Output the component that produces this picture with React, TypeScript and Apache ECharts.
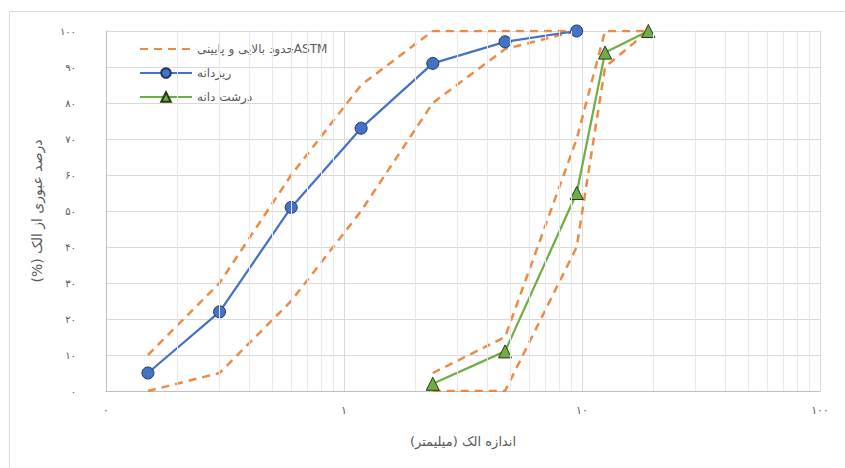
import React, { useEffect, useRef } from "react";
import * as echarts from "echarts";

// Sieve sizes (mm) and percent passing
const fineSieve = [0.15, 0.3, 0.6, 1.18, 2.36, 4.75, 9.5];
const finePassing = [5, 22, 51, 73, 91, 97, 100];
const fineUpper = [10, 30, 60, 85, 100, 100, 100];
const fineLower = [0, 5, 25, 50, 80, 95, 100];

const coarseSieve = [2.36, 4.75, 9.5, 12.5, 19];
const coarsePassing = [2, 11, 55, 94, 100];
const coarseUpper = [5, 15, 70, 100, 100];
const coarseLower = [0, 0, 40, 90, 100];

// Axis ticks
const xTickValues = [0.1, 1, 10, 100];
const xTickLabels = ["۰", "۱", "۱۰", "۱۰۰"];
const xMinorValues = [
  0.2, 0.3, 0.4, 0.5, 0.6, 0.7, 0.8, 0.9,
  2, 3, 4, 5, 6, 7, 8, 9,
  20, 30, 40, 50, 60, 70, 80, 90,
];

const limitName = "حدود بالایی و پایینیASTM";
const fineName = "ریزدانه";
const coarseName = "درشت دانه";
const xTitle = "اندازه الک (میلیمتر)";
const yTitle = "درصد عبوری از الک (%)";

// right-to-left embedding so Persian titles lay out as a RTL paragraph
const rtl = (s: string) => "\u202B" + s + "\u202C";
const faDigits = "۰۱۲۳۴۵۶۷۸۹";
const toFa = (v: number | string) =>
  String(v).replace(/\d/g, (d) => faDigits[Number(d)]);

const pairs = (xs: number[], ys: number[]) => xs.map((x, i) => [x, ys[i]]);

const FONT = "DejaVu Sans, sans-serif";
const TEXT = "#595959";
const ORANGE = "#ED7D31";
const BLUE = "#4472C4";
const GREEN = "#70AD47";

export default function App() {
  const ref = useRef<HTMLDivElement>(null);

  useEffect(() => {
    document.body.style.margin = "0";
    if (!ref.current) return;
    const chart = echarts.init(ref.current, undefined, { renderer: "svg" });

    const limitStyle = {
      type: "line",
      name: limitName,
      symbol: "none",
      z: 2,
      silent: true,
      lineStyle: { color: ORANGE, width: 2.5, type: [8, 6], opacity: 0.9 },
      itemStyle: { color: ORANGE },
    };

    chart.setOption({
      animation: false,
      backgroundColor: "#ffffff",
      textStyle: { fontFamily: FONT },
      graphic: [
        {
          type: "rect",
          shape: { x: 9.5, y: 11.5, width: 900, height: 600 },
          style: { fill: "none", stroke: "#d9d9d9", lineWidth: 1 },
          silent: true,
        },
      ],
      grid: { left: 106, right: 25, top: 31, bottom: 77 },
      legend: {
        left: 134,
        top: 38,
        orient: "vertical",
        itemWidth: 52,
        itemHeight: 12,
        itemGap: 12,
        data: [
          { name: limitName, itemStyle: { opacity: 0 } },
          fineName,
          coarseName,
        ],
        textStyle: { fontFamily: FONT, fontSize: 12, color: TEXT, padding: [0, 0, 0, 0] },
      },
      xAxis: {
        type: "log",
        logBase: 10,
        min: 0.1,
        max: 100,
        name: rtl(xTitle),
        nameLocation: "middle",
        nameGap: 44,
        nameTextStyle: { fontFamily: FONT, fontSize: 13, color: TEXT },
        axisLine: { show: true, lineStyle: { color: "#bfbfbf", width: 1 } },
        axisTick: { show: false },
        axisLabel: {
          margin: 14,
          fontFamily: FONT,
          fontSize: 11,
          color: TEXT,
          formatter: (v: number) => {
            const i = xTickValues.findIndex((t) => Math.abs(t - v) / t < 1e-6);
            return i >= 0 ? xTickLabels[i] : "";
          },
        },
        splitLine: { show: true, lineStyle: { color: "#d9d9d9", width: 1 } },
      },
      yAxis: {
        type: "value",
        min: 0,
        max: 100,
        interval: 10,
        name: rtl(yTitle),
        nameLocation: "middle",
        nameRotate: 90,
        nameGap: 62,
        nameTextStyle: { fontFamily: FONT, fontSize: 14, color: TEXT },
        axisLine: { show: true, lineStyle: { color: "#bfbfbf", width: 1 } },
        axisTick: { show: false },
        axisLabel: {
          margin: 30,
          fontFamily: FONT,
          fontSize: 10,
          color: TEXT,
          formatter: (v: number) => toFa(v),
        },
        splitLine: { show: true, lineStyle: { color: "#d9d9d9", width: 1 } },
      },
      series: [
        {
          type: "line",
          name: "minor-grid",
          data: [],
          silent: true,
          z: 1,
          markLine: {
            silent: true,
            symbol: "none",
            label: { show: false },
            lineStyle: { color: "#e8e8e8", width: 1, type: "solid" },
            data: xMinorValues.map((v) => ({ xAxis: v })),
          },
        },
        { ...limitStyle, data: pairs(fineSieve, fineUpper) },
        { ...limitStyle, data: pairs(fineSieve, fineLower) },
        { ...limitStyle, data: pairs(coarseSieve, coarseUpper) },
        { ...limitStyle, data: pairs(coarseSieve, coarseLower) },
        {
          type: "line",
          name: fineName,
          data: pairs(fineSieve, finePassing),
          z: 4,
          symbol: "circle",
          symbolSize: 12,
          lineStyle: { color: BLUE, width: 2.25 },
          itemStyle: { color: BLUE, borderColor: "#1f3864", borderWidth: 1 },
        },
        {
          type: "line",
          name: coarseName,
          data: pairs(coarseSieve, coarsePassing),
          z: 4,
          symbol: "triangle",
          symbolSize: 13,
          lineStyle: { color: GREEN, width: 2.25 },
          itemStyle: { color: GREEN, borderColor: "#233a12", borderWidth: 1 },
        },
      ],
    });

    return () => chart.dispose();
  }, []);

  return <div ref={ref} style={{ width: 845, height: 468 }} />;
}
